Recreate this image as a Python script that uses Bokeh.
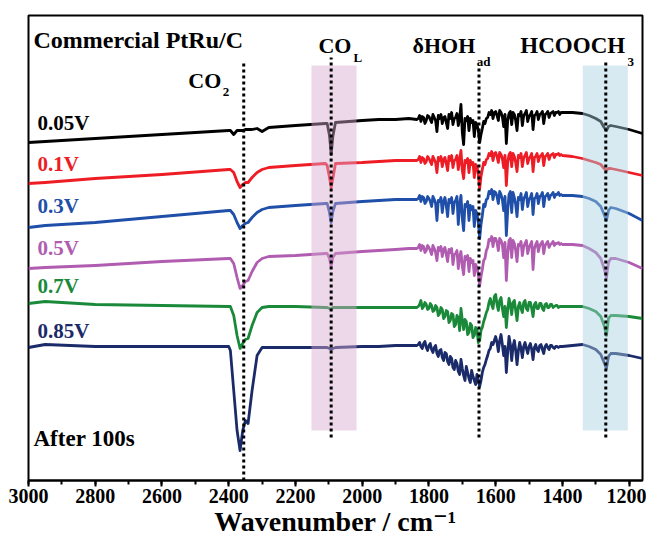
from bokeh.plotting import figure
from bokeh.models import Range1d, SingleIntervalTicker, Label, ColumnDataSource
from bokeh.embed import file_html
from bokeh.resources import INLINE

# ---- data (wavenumber in cm-1, intensity in arbitrary units incl. stacking offset) ----
wavenumber = ([3000, 2950, 2800, 2600, 2400, 2395, 2385, 2375, 2366, 2358, 2350, 2342, 2330, 2315, 2300, 2280,
               2200, 2110, 2105, 2098, 2093, 2088, 2080, 2000, 1950, 1900, 1860]
              + list(range(1836, 1399, -4))
              + [1370, 1340, 1320, 1300, 1285, 1275, 1268, 1262, 1255, 1240, 1200, 1160])

v005 = [338, 339, 342, 346, 350, 350, 346, 350, 350, 350, 351, 351, 351, 352, 349, 353,
        355, 357, 357, 345, 326, 344, 358, 360, 361, 361, 362,
        361, 362, 365, 359, 364, 363, 357, 360, 365, 364,
        361, 358, 366, 363, 360, 349, 365, 362, 366, 357,
        363, 364, 358, 352, 366, 362, 368, 356, 362, 363,
        367, 355, 362, 376, 348, 336, 362, 360, 364, 350,
        362, 358, 360, 344, 358, 356, 350, 338, 346, 352,
        359, 357, 362, 363, 368, 366, 370, 362, 368, 369,
        365, 360, 370, 368, 364, 354, 366, 337, 360, 367,
        369, 356, 368, 366, 360, 350, 366, 365, 369, 355,
        365, 367, 370, 359, 364, 366, 369, 351, 365, 366,
        369, 361, 366, 367, 369, 357, 366, 367, 369, 363,
        367, 368, 369, 365, 368, 368, 369, 366, 368, 368,
        368, 367, 365, 362, 359, 353, 350, 354, 355, 354, 351, 347]

v01 = [297, 298, 302, 306, 311, 311, 308, 299, 293, 296, 298, 298, 303, 308, 311, 313,
       315, 317, 315, 303, 293, 302, 317, 318, 319, 320, 320,
       320, 321, 324, 318, 323, 322, 317, 319, 324, 322,
       319, 316, 324, 321, 318, 308, 323, 320, 324, 314,
       321, 323, 317, 310, 324, 320, 325, 313, 320, 321,
       325, 311, 320, 330, 310, 302, 320, 318, 322, 308,
       320, 316, 318, 303, 316, 314, 306, 292, 304, 311,
       318, 316, 321, 322, 327, 325, 329, 320, 327, 328,
       324, 318, 328, 326, 322, 313, 325, 295, 318, 326,
       328, 314, 327, 324, 318, 309, 325, 323, 327, 314,
       323, 325, 328, 317, 322, 324, 327, 309, 323, 324,
       327, 319, 324, 325, 327, 315, 324, 325, 327, 321,
       325, 326, 327, 323, 326, 326, 327, 325, 326, 325,
       324, 322, 320, 318, 316, 312, 310, 312, 312, 311, 308, 305]

v03 = [253, 255, 258, 264, 270, 270, 266, 258, 252, 255, 257, 258, 263, 268, 271, 273,
       275, 277, 277, 268, 258, 269, 277, 279, 280, 281, 281,
       281, 282, 285, 279, 284, 283, 277, 279, 284, 282,
       279, 274, 284, 281, 277, 260, 280, 279, 283, 268,
       279, 283, 275, 264, 281, 278, 283, 267, 278, 280,
       284, 256, 276, 285, 262, 250, 276, 274, 279, 260,
       275, 271, 274, 254, 270, 267, 258, 242, 256, 265,
       276, 274, 281, 282, 289, 287, 291, 281, 289, 288,
       284, 277, 289, 286, 281, 270, 284, 245, 270, 286,
       289, 268, 288, 283, 276, 264, 283, 281, 287, 271,
       282, 284, 288, 274, 281, 283, 287, 266, 282, 283,
       287, 277, 284, 285, 288, 274, 284, 285, 287, 281,
       285, 286, 288, 283, 286, 286, 288, 285, 286, 285,
       285, 284, 282, 279, 274, 266, 260, 270, 273, 272, 267, 260]

v05 = [212, 213, 215, 219, 222, 222, 217, 203, 192, 195, 199, 200, 209, 218, 222, 224,
       225, 227, 227, 222, 214, 223, 227, 229, 230, 231, 232,
       232, 233, 236, 230, 235, 234, 228, 230, 235, 233,
       230, 226, 235, 232, 228, 220, 233, 230, 234, 224,
       231, 233, 226, 219, 231, 228, 232, 216, 226, 227,
       230, 212, 224, 229, 214, 206, 224, 221, 225, 209,
       222, 218, 220, 205, 216, 213, 206, 195, 204, 211,
       220, 222, 230, 233, 241, 240, 244, 234, 242, 242,
       238, 230, 242, 240, 236, 223, 238, 200, 226, 240,
       242, 223, 240, 237, 230, 219, 236, 235, 239, 225,
       234, 237, 240, 227, 233, 236, 239, 211, 232, 236,
       239, 229, 235, 237, 239, 227, 235, 237, 239, 233,
       236, 237, 239, 235, 237, 237, 238, 236, 237, 236,
       236, 235, 232, 228, 222, 212, 203, 218, 222, 222, 218, 212]

v07 = [177, 179, 176, 175, 174, 174, 165, 145, 132, 137, 141, 142, 155, 168, 173, 174,
       174, 173, 173, 172, 171, 173, 173, 173, 173, 173, 173,
       173, 174, 176, 180, 172, 174, 178, 176, 171, 172,
       177, 175, 169, 170, 175, 173, 165, 167, 173, 171,
       162, 164, 170, 169, 158, 160, 167, 166, 154, 156,
       165, 163, 150, 172, 160, 151, 161, 159, 146, 148,
       157, 155, 143, 145, 153, 151, 138, 140, 150, 153,
       159, 163, 168, 171, 178, 182, 176, 172, 184, 186,
       176, 170, 180, 183, 172, 164, 174, 153, 170, 182,
       176, 166, 178, 180, 170, 160, 174, 178, 172, 168,
       178, 180, 172, 170, 178, 178, 172, 164, 176, 178,
       172, 172, 177, 177, 172, 170, 176, 177, 173, 173,
       176, 176, 173, 174, 175, 175, 173, 174, 174, 174,
       174, 174, 172, 169, 164, 155, 145, 162, 165, 165, 164, 162]

v085 = [133, 136, 134, 134, 134, 130, 90, 50, 30, 50, 60, 57, 90, 125, 133, 133,
        133, 133, 133, 132, 131, 132, 133, 134, 134, 135, 135,
        135, 136, 138, 134, 132, 137, 139, 133, 130, 135,
        137, 131, 128, 133, 135, 127, 124, 130, 131, 123,
        120, 128, 127, 119, 116, 124, 122, 113, 111, 120,
        117, 109, 106, 121, 112, 105, 100, 114, 108, 102,
        98, 110, 104, 100, 96, 106, 100, 94, 100, 108,
        113, 116, 121, 125, 130, 132, 138, 136, 140, 144,
        138, 129, 140, 146, 136, 125, 134, 108, 128, 144,
        136, 120, 134, 140, 130, 116, 130, 138, 132, 123,
        134, 138, 132, 127, 134, 137, 131, 121, 133, 136,
        131, 129, 135, 136, 131, 127, 134, 136, 133, 131,
        135, 135, 133, 132, 134, 134, 133, 134, 134, 134,
        135, 136, 134, 131, 126, 118, 112, 124, 127, 127, 125, 122]

series_labels = ["0.05V", "0.1V", "0.3V", "0.5V", "0.7V", "0.85V"]
series_values = [v005, v01, v03, v05, v07, v085]

band_names = ["CO2", "COL", "HOH", "HCOOCH3"]
band_centers = [2355, 2093, 1650, 1270]
shaded_bands = [(2152, 2017), (1339, 1204)]

# ---- styles / layout ----
colors = ["#000000", "#ee1c25", "#1f4fa8", "#b05cb0", "#1a8a3a", "#1b2a68"]
label_y = [358, 317, 275, 233, 195, 150]
FONT = "'Liberation Serif', 'Times New Roman', 'DejaVu Serif', serif"

p = figure(width=646, height=541, output_backend="svg", toolbar_location=None,
           x_range=Range1d(3000, 1160), y_range=Range1d(0, 465),
           min_border_left=28, min_border_right=4, min_border_top=15, min_border_bottom=61)
p.yaxis.visible = False
p.grid.visible = False
p.outline_line_color = "black"
p.outline_line_width = 2
p.background_fill_color = "white"
p.border_fill_color = "white"

ax = p.xaxis[0]
ax.ticker = SingleIntervalTicker(interval=200, num_minor_ticks=2)
ax.axis_line_width = 2
ax.major_tick_line_width = 2
ax.minor_tick_line_width = 2
ax.major_tick_out = 6
ax.major_tick_in = 0
ax.minor_tick_out = 4
ax.minor_tick_in = 0
ax.major_label_text_font = FONT
ax.major_label_text_font_style = "bold"
ax.major_label_text_font_size = "20px"
ax.major_label_text_color = "black"
ax.major_label_standoff = 2
ax.axis_label = "Wavenumber / cm\u207b\u00b9"
ax.axis_label_text_font = FONT
ax.axis_label_text_font_style = "bold"
ax.axis_label_text_font_size = "28px"
ax.axis_label_text_color = "black"
ax.axis_label_standoff = 0

for vals, col in zip(series_values, colors):
    src = ColumnDataSource(dict(x=wavenumber, y=vals))
    p.line("x", "y", source=src, line_color=col, line_width=2.8, line_join="round")

# shaded bands on top (semi-transparent)
band_fill = ["#d8a8d0", "#a8d0e0"]
for (hi, lo), fc in zip(shaded_bands, band_fill):
    p.quad(left=[hi], right=[lo], bottom=[50], top=[415], fill_color=fc, fill_alpha=0.45, line_color=None)

# dotted marker lines
tops = [418, 423, 415, 418]
bottoms = [0, 43, 43, 43]
p.segment(x0=band_centers, x1=band_centers, y0=bottoms, y1=tops,
          line_color="black", line_width=3, line_dash="3 3")

def lab(text, x, y, size, color="black"):
    p.add_layout(Label(x=x, y=y, text=text, text_font=FONT, text_font_style="bold",
                       text_font_size=size, text_color=color, text_baseline="middle", text_align="left"))

lab("Commercial PtRu/C", 2985, 441, "24px")
for t, y, c in zip(series_labels, label_y, colors):
    lab(t, 2973, y, "21px", c)
lab("After 100s", 2985, 42, "23px")

lab("CO", 2521, 400, "22px")
lab("2", 2418, 389, "13px")
lab("CO", 2131, 435, "22px")
lab("L", 2026, 423, "13px")
lab("\u03b4HOH", 1849, 435, "22px")
lab("ad", 1657, 419, "13px")
lab("HCOOCH", 1526, 435, "23px")
lab("3", 1205, 419, "13px")

open("out.html", "w").write(file_html(p, INLINE))
